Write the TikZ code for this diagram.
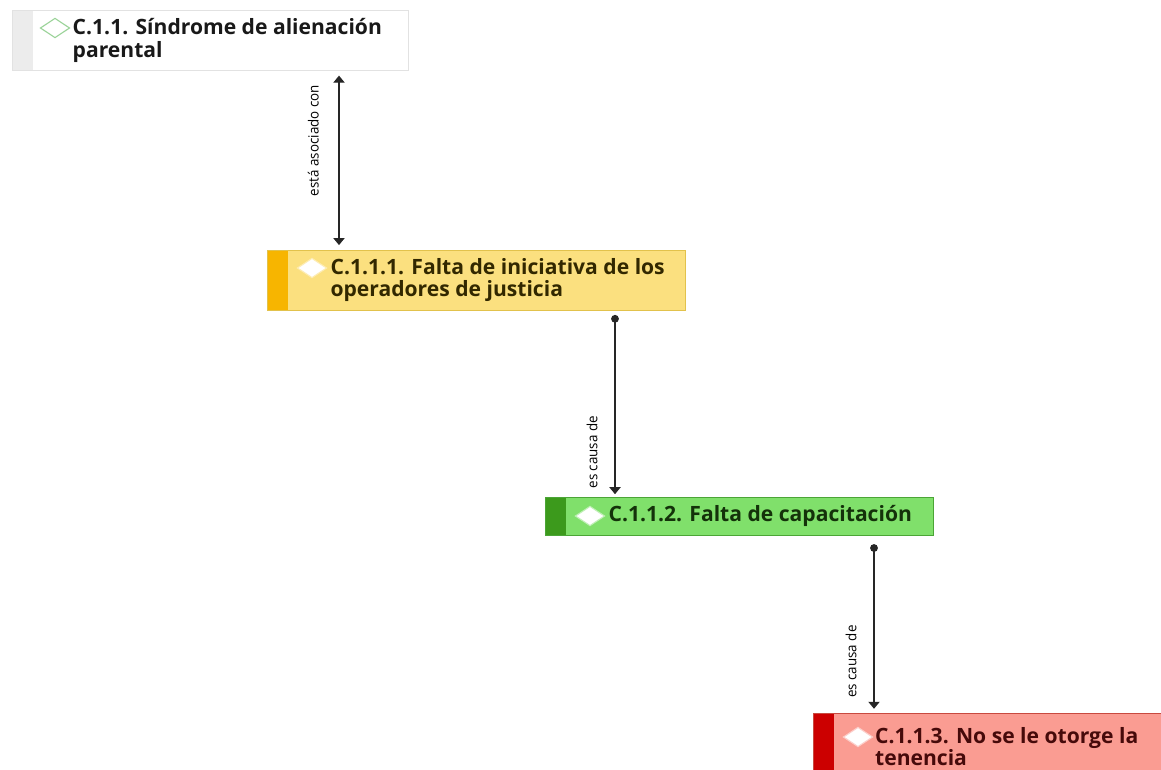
\documentclass[tikz,border=0pt]{standalone}
\usepackage{fontspec}
\setmainfont{Open Sans}
\newfontfamily\etiqfont[FakeStretch=0.95]{Open Sans}
\usetikzlibrary{arrows.meta,calc,positioning,shapes.geometric}

\definecolor{bordeGris}{HTML}{E2E2E2}
\definecolor{franjaGris}{HTML}{ECECEC}
\definecolor{fondoAmarillo}{HTML}{FBE07F}
\definecolor{bordeAmarillo}{HTML}{E2C24C}
\definecolor{franjaAmarillo}{HTML}{F7B500}
\definecolor{fondoVerde}{HTML}{80E06B}
\definecolor{bordeVerde}{HTML}{4BA536}
\definecolor{franjaVerde}{HTML}{3C9A1C}
\definecolor{fondoRojo}{HTML}{FA9C92}
\definecolor{bordeRojo}{HTML}{C84A40}
\definecolor{franjaRojo}{HTML}{CC0000}
\definecolor{rombo}{HTML}{9CD49A}

\begin{document}
\begin{tikzpicture}[x=0.025cm, y=-0.025cm,
		caja/.style n args={3}{rectangle, draw=#1, fill=#2, anchor=north west, inner sep=0pt, line width=0.5pt,
			path picture={\fill[#3] (path picture bounding box.north west) rectangle ([xshift=15pt]path picture bounding box.south west);}},
		titulo/.style={align=left, inner sep=0pt, font=\bfseries\fontsize{15}{15.8}\selectfont},
		icono/.style={diamond, draw=#1, fill=white, line width=0.8pt, aspect=1.5, minimum width=21pt, minimum height=14pt, inner sep=0pt},
		rel/.style={draw=black!85, line width=0.9pt},
		doble/.style={rel, {Triangle[width=8pt,length=5pt]}-{Triangle[width=8pt,length=5pt]}},
		causa/.style={rel, {Circle[length=5.5pt]}-{Triangle[width=8pt,length=5pt]}},
		etiqueta/.style={font=\etiqfont\fontsize{10}{12}\selectfont, rotate=90, anchor=south, inner sep=12pt}
		]

		\useasboundingbox (0,0) rectangle (1161,769);

		% Las cajas
		\node[caja={bordeGris}{white}{franjaGris}, minimum width=396*0.025cm, minimum height=60*0.025cm] (c1) at (12,10) {};
		\node[caja={bordeAmarillo}{fondoAmarillo}{franjaAmarillo}, minimum width=418*0.025cm, minimum height=60*0.025cm] (c2) at (267,250) {};
		\node[caja={bordeVerde}{fondoVerde}{franjaVerde}, minimum width=388*0.025cm, minimum height=38*0.025cm] (c3) at (545,497) {};
		\node[caja={bordeRojo}{fondoRojo}{franjaRojo}, minimum width=360*0.025cm, minimum height=66*0.025cm] (c4) at (813,713) {};

		% Los textos
		\node[titulo, text=black!90, right=43pt of c1.west] (t1) {C.1.1. Síndrome de alienación\\parental};
		\node[titulo, text={rgb,255:red,50;green,40;blue,0}, right=45pt of c2.west] (t2) {C.1.1.1. Falta de iniciativa de los\\operadores de justicia};
		\node[titulo, text={rgb,255:red,20;green,50;blue,10}, right=45pt of c3.west] (t3) {C.1.1.2. Falta de capacitación};
		\node[titulo, text={rgb,255:red,70;green,10;blue,10}, right=44pt of c4.west] (t4) {C.1.1.3. No se le otorge la\\tenencia};

		% Los rombos
		\node[icono=rombo] (i1) at ($(c1.north west)+(43,18)$) {};
		\node[icono=fondoAmarillo!60!white] (i2) at ($(c2.north west)+(45,18)$) {};
		\node[icono=fondoVerde!50!white] (i3) at ($(c3.north west)+(45,19)$) {};
		\node[icono=fondoRojo!50!white] (i4) at ($(c4.north west)+(45,24)$) {};

		% Las relaciones
		\coordinate (x1) at (339,0);
		\coordinate (x2) at (615,0);
		\coordinate (x3) at (874,0);
		\draw[doble, shorten <=3.5pt, shorten >=3.5pt] (c1.south -| x1) -- node[etiqueta, pos=0.39, inner sep=14pt] {está asociado con} (c2.north -| x1);
		\draw[causa, shorten <=3pt, shorten >=2pt] (c2.south -| x2) -- node[etiqueta, pos=0.76] {es causa de} (c3.north -| x2);
		\draw[causa, shorten <=6pt, shorten >=3pt] (c3.south -| x3) -- node[etiqueta, pos=0.71] {es causa de} (c4.north -| x3);
\end{tikzpicture}
\end{document}
